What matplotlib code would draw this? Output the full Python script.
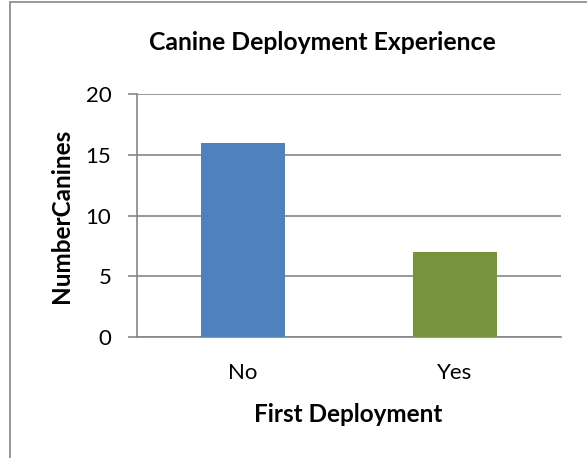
import matplotlib.pyplot as plt
from matplotlib.patches import Rectangle

categories = ["No", "Yes"]
counts = [16, 7]
bar_colors = ["#4F81BD", "#77933C"]
y_ticks = [0, 5, 10, 15, 20]

title = "Canine Deployment Experience"
x_label = "First Deployment"
y_label = "NumberCanines"

W, H = 587, 458
plt.rcParams["font.family"] = ["Lato", "DejaVu Sans"]

fig = plt.figure(figsize=(W / 100, H / 100), dpi=100)
ax = fig.add_axes([137 / W, 1 - 337 / H, (561 - 137) / W, (337 - 94) / H])

x = list(range(len(categories)))
ax.bar(x, counts, width=0.4, color=bar_colors, zorder=3)

grid_col = "#868686"
ax.set_xlim(-0.5, len(categories) - 0.5)
ax.set_ylim(0, 20)
ax.set_yticks(y_ticks)
ax.set_xticks(x)
ax.set_xticklabels(categories)
ax.yaxis.grid(True, color=grid_col, linewidth=1.2, zorder=0)
for side in ["top", "right"]:
    ax.spines[side].set_visible(False)
for side in ["left", "bottom"]:
    ax.spines[side].set_color(grid_col)
    ax.spines[side].set_linewidth(1.2)
ax.tick_params(axis="y", length=6.5, width=1.2, color=grid_col, labelsize=16, pad=12)
ax.tick_params(axis="x", length=0, labelsize=16, pad=19)

ax.set_xlabel(x_label, fontsize=17.5, fontweight="bold", va="center")
ax.xaxis.set_label_coords(0.499, -0.317)
ax.set_ylabel(y_label, fontsize=17.5, fontweight="bold", va="center")
ax.yaxis.set_label_coords(-0.177, 0.5)

fig.text(322 / W, 1 - 42 / H, title, ha="center", va="center",
         fontsize=17.8, fontweight="bold")

# chart area border (cropped on right and bottom)
fig.add_artist(Rectangle((10 / W, -0.1), 1.2, 1 - 2 / H + 0.1,
                         transform=fig.transFigure, fill=False,
                         edgecolor=grid_col, linewidth=1.2))

fig.savefig("out.png", dpi=100)
